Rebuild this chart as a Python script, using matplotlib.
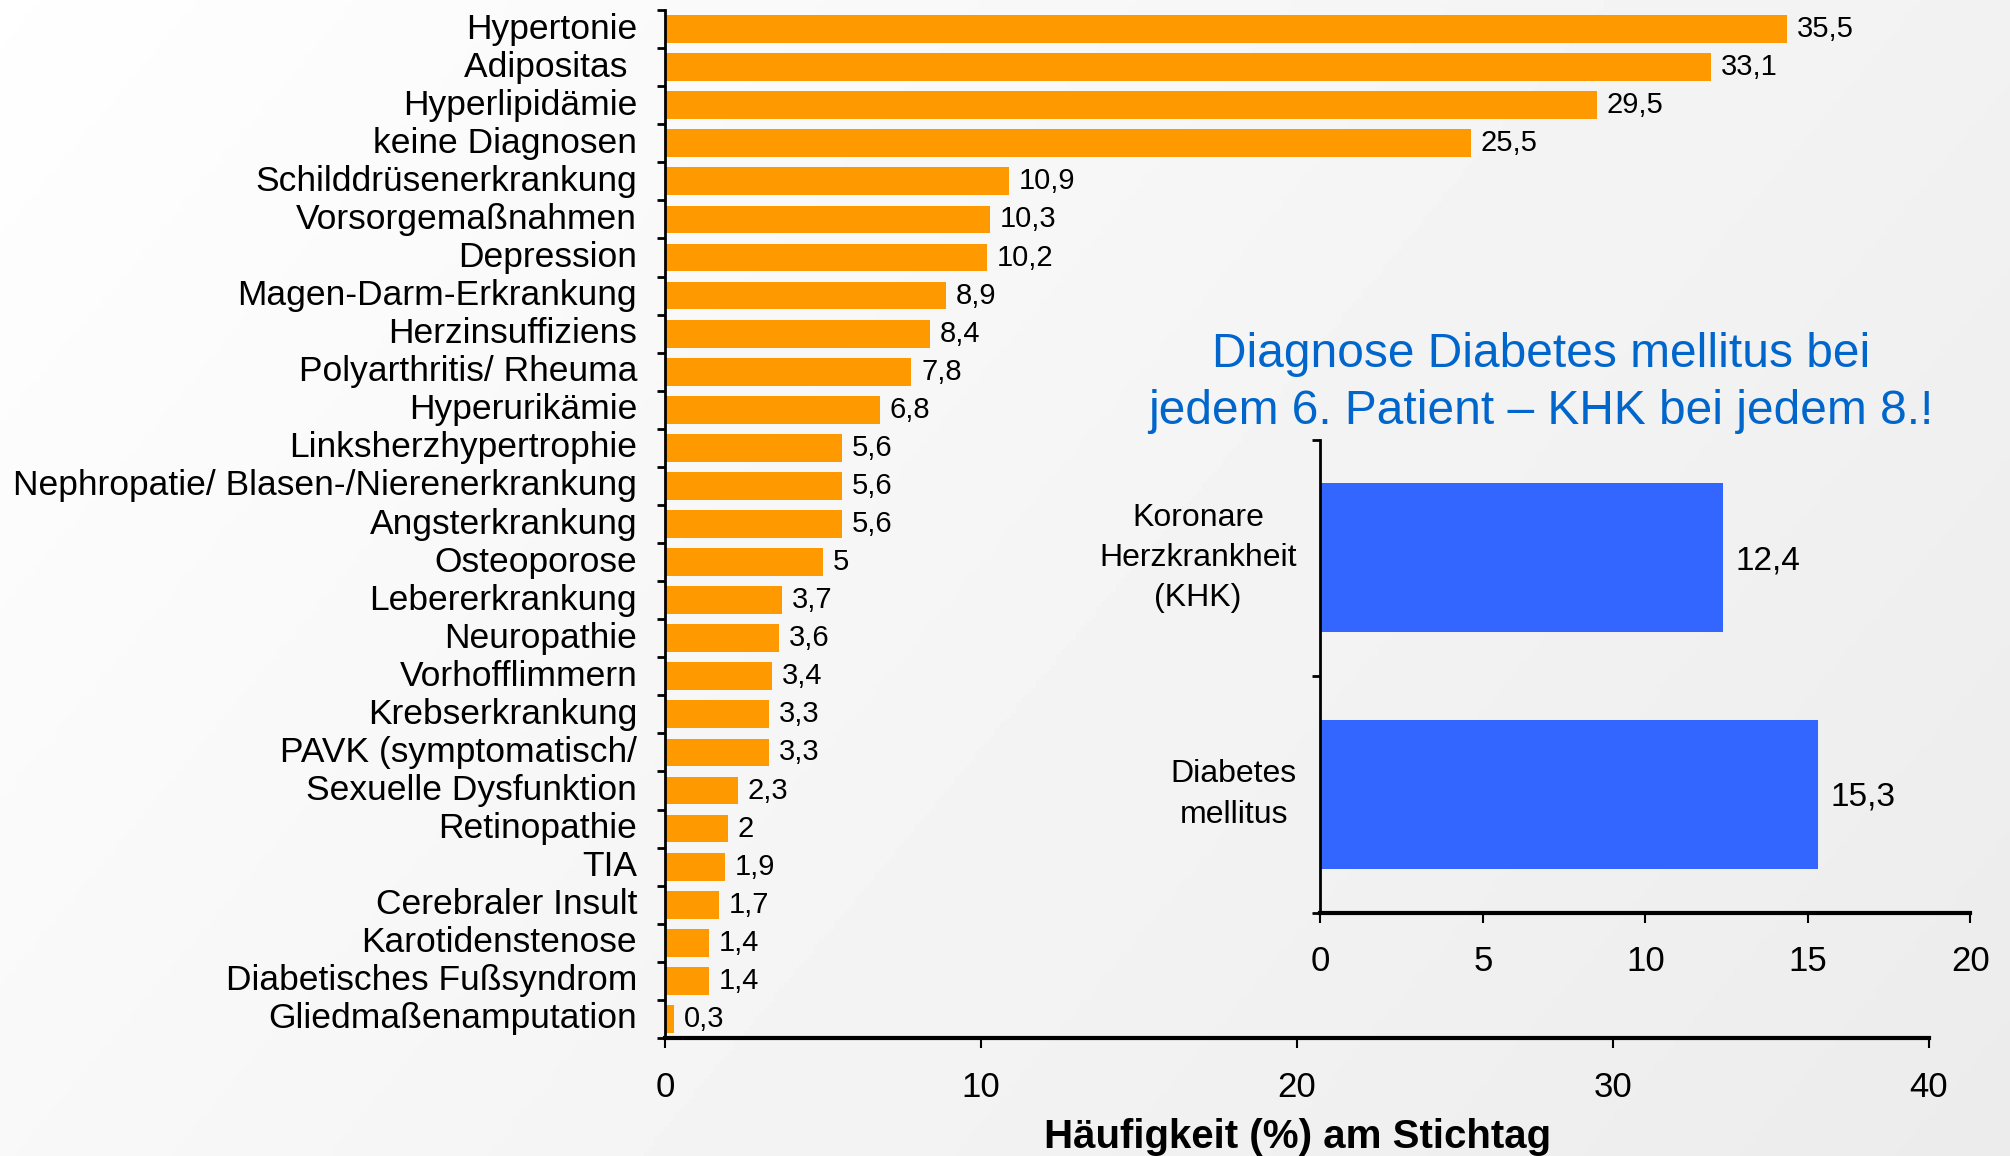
import numpy as np
import matplotlib.pyplot as plt
from matplotlib.ticker import FixedLocator

plt.rcParams['font.family'] = ['Liberation Sans', 'DejaVu Sans']

# Hauptdiagramm: Diagnosen am Stichtag
diagnosen = [
    "Hypertonie", "Adipositas ", "Hyperlipidämie", "keine Diagnosen",
    "Schilddrüsenerkrankung", "Vorsorgemaßnahmen", "Depression",
    "Magen-Darm-Erkrankung", "Herzinsuffiziens", "Polyarthritis/ Rheuma",
    "Hyperurikämie", "Linksherzhypertrophie",
    "Nephropatie/ Blasen-/Nierenerkrankung", "Angsterkrankung", "Osteoporose",
    "Lebererkrankung", "Neuropathie", "Vorhofflimmern", "Krebserkrankung",
    "PAVK (symptomatisch/", "Sexuelle Dysfunktion", "Retinopathie", "TIA",
    "Cerebraler Insult", "Karotidenstenose", "Diabetisches Fußsyndrom",
    "Gliedmaßenamputation",
]
haeufigkeit = [35.5, 33.1, 29.5, 25.5, 10.9, 10.3, 10.2, 8.9, 8.4, 7.8, 6.8,
               5.6, 5.6, 5.6, 5.0, 3.7, 3.6, 3.4, 3.3, 3.3, 2.3, 2.0, 1.9,
               1.7, 1.4, 1.4, 0.3]
x_ticks = [0, 10, 20, 30, 40]

# Einschub: Diabetes / KHK
inset_labels = ["Koronare\nHerzkrankheit\n(KHK)", "Diabetes\nmellitus"]
inset_werte = [12.4, 15.3]
inset_ticks = [0, 5, 10, 15, 20]
inset_titel = "Diagnose Diabetes mellitus bei\njedem 6. Patient \u2013 KHK bei jedem 8.!"

ORANGE = '#FF9900'
BLAU = '#3366FF'
TITEL_BLAU = '#0066CC'


def fmt(v):
    return f"{v:g}".replace('.', ',')


fig = plt.figure(figsize=(20.1, 11.56), dpi=100)

# leichter Hintergrundverlauf
bg = fig.add_axes([0, 0, 1, 1], zorder=-10)
gx, gy = np.meshgrid(np.linspace(0, 1, 400), np.linspace(0, 1, 240))
grad = 0.997 - 0.050 * gx - 0.024 * gy
bg.imshow(grad, cmap='gray', vmin=0, vmax=1, extent=[0, 1, 0, 1],
          aspect='auto', origin='upper')
bg.axis('off')

# --- Hauptachse ---
ax = fig.add_axes([0.3308, 0.1021, 0.6289, 0.8892])
ax.patch.set_alpha(0)
pos = np.arange(len(diagnosen))
ax.barh(pos, haeufigkeit, height=0.73, color=ORANGE, zorder=2)
ax.set_ylim(len(diagnosen) - 0.5, -0.5)
ax.set_xlim(0, 40)

for p, v in zip(pos, haeufigkeit):
    ax.annotate(fmt(v), (v, p), xytext=(7, 0), textcoords='offset points',
                va='center', ha='left', fontsize=21)

ax.set_yticks(pos)
ax.set_yticklabels(diagnosen, fontsize=25.5, va='center')
ax.yaxis.set_minor_locator(FixedLocator(np.arange(len(diagnosen) + 1) - 0.5))
ax.tick_params(axis='y', which='major', length=0, pad=20)
ax.tick_params(axis='y', which='minor', length=6, width=2, direction='out')
ax.set_xticks(x_ticks)
ax.tick_params(axis='x', length=7.5, width=1.5, direction='out', pad=16,
               labelsize=25)
for s in ['top', 'right']:
    ax.spines[s].set_visible(False)
ax.spines['left'].set_linewidth(2)
ax.spines['bottom'].set_linewidth(3)

fig.text(0.6455, 0.007, "Häufigkeit (%) am Stichtag", ha='center',
         va='baseline', fontsize=29, fontweight='bold')

# --- Einschub ---
ax2 = fig.add_axes([0.6569, 0.2105, 0.3234, 0.4092])
ax2.patch.set_alpha(0)
ipos = np.arange(len(inset_labels))
ax2.barh(ipos, inset_werte, height=0.63, color=BLAU, zorder=2)
ax2.set_ylim(len(inset_labels) - 0.5, -0.5)
ax2.set_xlim(0, 20)
for p, v in zip(ipos, inset_werte):
    ax2.annotate(fmt(v), (v, p), xytext=(9, -2), textcoords='offset points',
                 va='center', ha='left', fontsize=24)
ax2.set_yticks(ipos)
ax2.set_yticklabels(inset_labels, fontsize=23, multialignment='center',
                    linespacing=1.45, va='center')
ax2.yaxis.set_minor_locator(FixedLocator(np.arange(len(inset_labels) + 1) - 0.5))
ax2.tick_params(axis='y', which='major', length=0, pad=17)
ax2.tick_params(axis='y', which='minor', length=6, width=2, direction='out')
ax2.set_xticks(inset_ticks)
ax2.tick_params(axis='x', length=7.5, width=1.5, direction='out', pad=16,
                labelsize=25)
for s in ['top', 'right']:
    ax2.spines[s].set_visible(False)
ax2.spines['left'].set_linewidth(2)
ax2.spines['bottom'].set_linewidth(3)

fig.text(0.7667, 0.669, inset_titel, ha='center', va='center', fontsize=34.5,
         color=TITEL_BLAU, linespacing=1.35)

fig.savefig('out.png', dpi=100)
